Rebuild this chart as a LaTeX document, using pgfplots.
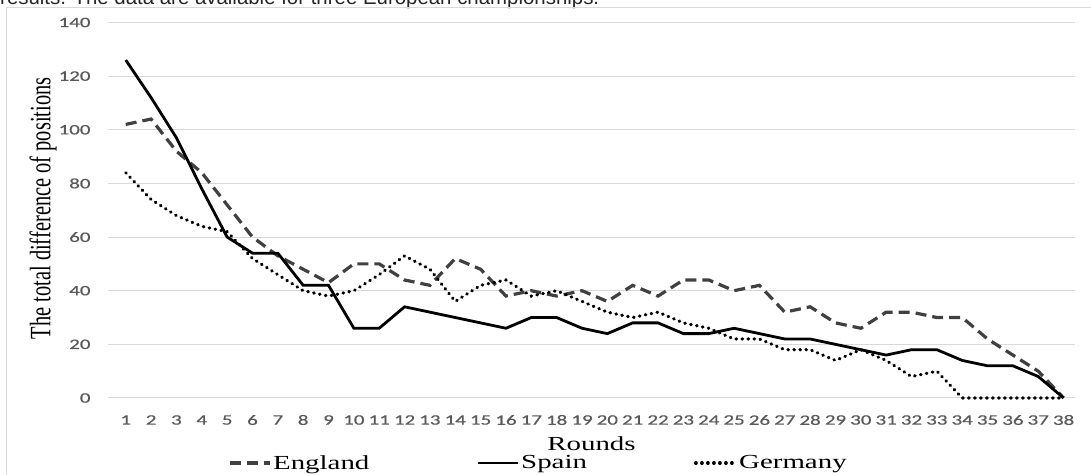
\documentclass[border=0pt]{standalone}
\usepackage{pgfplots}
\pgfplotsset{compat=1.18}
\usepackage{fontspec}
\setmainfont{Liberation Serif}
\newfontfamily\timesx[FakeStretch=1.45]{Liberation Serif}
\newfontfamily\calx[FakeStretch=1.45,FakeBold=0.6]{Carlito}
\newfontfamily\arialx{Liberation Sans}
\definecolor{tickgray}{HTML}{595959}
\definecolor{gridgray}{HTML}{D9D9D9}
\definecolor{engdash}{HTML}{404040}

\pgfplotstableread{
round england spain germany
1  102 126 84
2  104 112 74
3  92  97  68
4  84  78  64
5  72  60  62
6  60  54  52
7  53  54  46
8  48  42  40
9  43  42  38
10 50  26  40
11 50  26  46
12 44  34  53
13 42  32  48
14 52  30  36
15 48  28  42
16 38  26  44
17 40  30  38
18 38  30  40
19 40  26  36
20 36  24  32
21 42  28  30
22 38  28  32
23 44  24  28
24 44  24  26
25 40  26  22
26 42  24  22
27 32  22  18
28 34  22  18
29 28  20  14
30 26  18  18
31 32  16  14
32 32  18  8
33 30  18  10
34 30  14  0
35 22  12  0
36 16  12  0
37 10  8   0
38 0   0   0
}\champdata

\begin{document}
\begin{tikzpicture}[x=1bp,y=1bp]
\useasboundingbox (0,0) rectangle (1091,475);
% surrounding text line, cut by the page edge
\node[anchor=base west, inner sep=0pt, font=\arialx\fontsize{20.5}{24}\selectfont, text=black!85]
  at (0,470) {results. The data are available for three European championships.};
% chart frame
\draw[gridgray, line width=1bp] (6,-10) -- (6,467) -- (1100,467);
\begin{axis}[
    at={(108bp,77bp)},
    anchor=south west,
    scale only axis,
    width=967bp,
    height=375.5bp,
    xmin=0.3, xmax=38.45,
    ymin=0, ymax=140,
    axis line style={draw=none},
    major tick length=0pt,
    tick style={draw=none},
    clip=false,
    xtick={1,...,38},
    ytick={0,20,...,140},
    ymajorgrids=true,
    grid style={gridgray, line width=1bp},
    /pgf/number format/assume math mode=true,
    tick label style={font=\calx\fontsize{14.5}{16}\selectfont, text=tickgray},
    yticklabel style={anchor=east, xshift=-14bp},
    xticklabel style={anchor=center, yshift=-22bp},
    xlabel={Rounds},
    xlabel style={at={(rel axis cs:0.5,0)}, anchor=base, yshift=-53bp, font=\timesx\fontsize{20}{22}\selectfont},
    ylabel={\scalebox{1}[1.45]{The total difference of positions}},
    ylabel style={at={(rel axis cs:0,0.505)}, anchor=center, xshift=0bp, yshift=65bp, font=\fontsize{20.5}{22}\selectfont},
    legend columns=3,
    legend style={at={(rel axis cs:0.445,0)}, anchor=center, yshift=-65bp, draw=none, fill=none,
        font=\timesx\fontsize{20}{22}\selectfont, inner sep=0pt,
        /tikz/every even column/.append style={column sep=105bp}},
    legend cell align=left,
    legend image code/.code={\draw[#1] (0bp,0bp) -- (40bp,0bp);},
]
\addplot[engdash, line width=3.2bp, dash pattern=on 11bp off 6bp] table[x=round, y=england] {\champdata};
\addplot[black, line width=2.8bp] table[x=round, y=spain] {\champdata};
\addplot[black, line width=3.2bp, line cap=round, dash pattern=on 0.6bp off 5.4bp] table[x=round, y=germany] {\champdata};
\legend{England, Spain, Germany}
\end{axis}
\end{tikzpicture}
\end{document}
